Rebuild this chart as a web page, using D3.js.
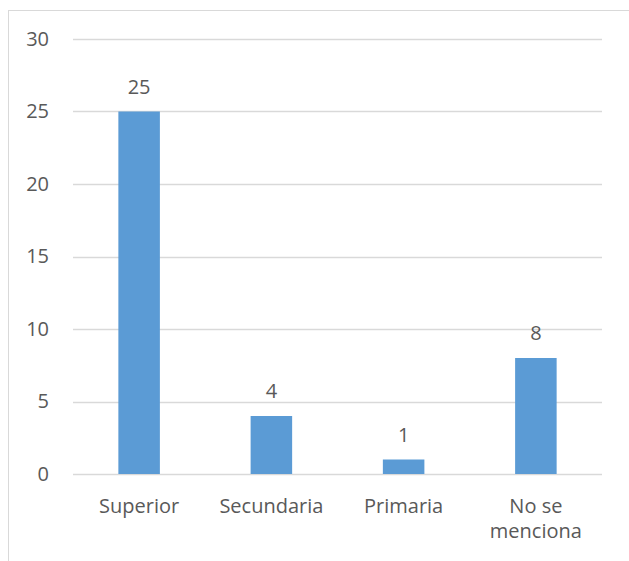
<!DOCTYPE html>
<html>
<head>
<meta charset="utf-8">
<script src="https://cdn.jsdelivr.net/npm/d3@7"></script>
<style>
  html, body { margin: 0; padding: 0; background: #ffffff; }
  svg { display: block; }
  text { font-family: "Open Sans", "Noto Sans", sans-serif; fill: #595959; }
</style>
</head>
<body>
<svg id="chart" width="629" height="561"></svg>
<script>
// Education level counts
const categories = ["Superior", "Secundaria", "Primaria", "No se menciona"];
const categoryLines = [["Superior"], ["Secundaria"], ["Primaria"], ["No se", "menciona"]];
const values = [25, 4, 1, 8];
const yTicks = [0, 5, 10, 15, 20, 25, 30];

const width = 629, height = 561;
const margin = { left: 73, right: 27, top: 39, bottom: 87 };
const svg = d3.select("#chart");

// chart frame
svg.append("rect")
  .attr("x", 8.5).attr("y", 10.5)
  .attr("width", 640).attr("height", 600)
  .attr("fill", "none")
  .attr("stroke", "#d9d9d9")
  .attr("stroke-width", 1);

const x = d3.scaleBand()
  .domain(categories)
  .range([margin.left, width - margin.right])
  .paddingInner(0.686)
  .paddingOuter(0.343);

const y = d3.scaleLinear()
  .domain([0, 30])
  .range([474, margin.top]);

// horizontal gridlines
svg.append("g")
  .selectAll("line")
  .data(yTicks)
  .join("line")
  .attr("x1", margin.left)
  .attr("x2", width - margin.right)
  .attr("y1", d => Math.round(y(d)) + 0.5)
  .attr("y2", d => Math.round(y(d)) + 0.5)
  .attr("stroke", "#d9d9d9")
  .attr("stroke-width", 1.3);

// y axis labels
const yAxis = d3.axisLeft(y).tickValues(yTicks).tickSize(0).tickPadding(0);
const gy = svg.append("g")
  .attr("transform", `translate(49,0)`)
  .call(yAxis);
gy.select(".domain").remove();
gy.selectAll("text")
  .attr("font-size", 20)
  .attr("font-family", null)
  .attr("fill", "#595959");

// bars
svg.append("g")
  .selectAll("rect")
  .data(values)
  .join("rect")
  .attr("x", (d, i) => x(categories[i]))
  .attr("width", x.bandwidth())
  .attr("y", d => y(d))
  .attr("height", d => y(0) - y(d))
  .attr("fill", "#5b9bd5");

// value labels
svg.append("g")
  .selectAll("text")
  .data(values)
  .join("text")
  .attr("x", (d, i) => x(categories[i]) + x.bandwidth() / 2)
  .attr("y", d => y(d) - 18)
  .attr("text-anchor", "middle")
  .attr("font-size", 20)
  .text(d => d);

// category labels
const cat = svg.append("g")
  .selectAll("text")
  .data(categories)
  .join("text")
  .attr("x", d => x(d) + x.bandwidth() / 2)
  .attr("y", 513)
  .attr("text-anchor", "middle")
  .attr("font-size", 20);
cat.selectAll("tspan")
  .data((d, i) => categoryLines[i])
  .join("tspan")
  .attr("x", function () { return this.parentNode.getAttribute("x"); })
  .attr("dy", (d, j) => j === 0 ? 0 : 25)
  .text(d => d);
</script>
</body>
</html>
